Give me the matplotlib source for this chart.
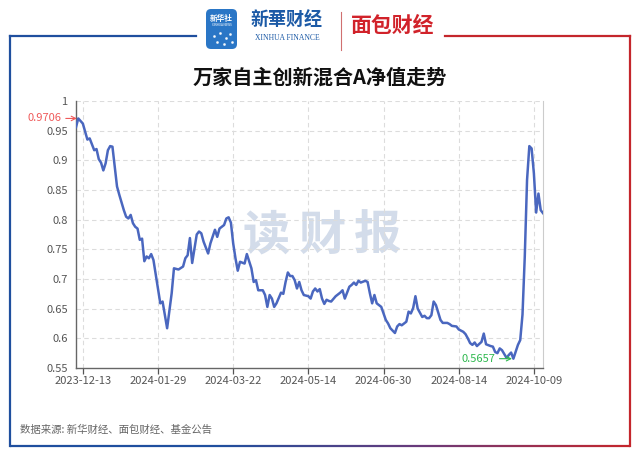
import matplotlib
matplotlib.use('Agg')
import matplotlib.pyplot as plt
from matplotlib.patches import FancyBboxPatch
from matplotlib.collections import LineCollection
import numpy as np

plt.rcParams['font.family'] = ['Noto Sans CJK SC', 'DejaVu Sans']

# ---------------- data (trading-day index, NAV) ----------------
day_index = [0, 1, 3, 5, 6, 8, 9, 10, 11, 12, 13, 14, 15, 16, 18, 19, 21, 22, 23, 24,
             25, 26, 27, 28, 29, 30, 31, 32, 33, 34, 37, 38, 40, 42, 43, 45, 47, 48, 49, 50,
             51, 53, 54, 55, 56, 58, 59, 61, 62, 63, 65, 66, 67, 68, 69, 70, 71, 72, 74, 75,
             77, 78, 79, 80, 82, 83, 84, 85, 86, 87, 88, 90, 91, 92, 93, 94, 95, 96, 97, 98,
             99, 100, 102, 103, 104, 105, 106, 107, 108, 109, 110, 111, 112, 114, 116, 117, 118, 120, 121, 122,
             123, 124, 125, 127, 128, 129, 130, 131, 132, 134, 135, 136, 137, 138, 140, 141, 142, 143, 145, 146,
             147, 148, 149, 150, 152, 153, 154, 155, 156, 157, 158, 160, 161, 163, 164, 165, 167, 168, 170, 171,
             172, 173, 174, 175, 176, 178, 179, 180, 182, 183, 184, 185, 186, 187, 189, 190, 191, 192, 194, 195,
             196, 197, 198, 199, 200, 201, 202, 203, 204, 205]
nav_values = [0.956, 0.9706, 0.962, 0.935, 0.937, 0.917, 0.919, 0.902, 0.896, 0.883, 0.895, 0.917, 0.924, 0.923, 0.856, 0.842, 0.816, 0.805, 0.802, 0.808,
              0.794, 0.788, 0.785, 0.766, 0.768, 0.730, 0.738, 0.735, 0.742, 0.732, 0.659, 0.662, 0.617, 0.676, 0.718, 0.716, 0.721, 0.735, 0.740, 0.769,
              0.727, 0.775, 0.780, 0.777, 0.763, 0.743, 0.760, 0.783, 0.771, 0.785, 0.791, 0.802, 0.804, 0.795, 0.760, 0.735, 0.714, 0.729, 0.726, 0.742,
              0.718, 0.695, 0.698, 0.681, 0.681, 0.673, 0.653, 0.673, 0.667, 0.653, 0.659, 0.677, 0.675, 0.695, 0.711, 0.705, 0.705, 0.698, 0.684, 0.695,
              0.681, 0.673, 0.671, 0.667, 0.679, 0.684, 0.679, 0.683, 0.667, 0.658, 0.665, 0.663, 0.662, 0.671, 0.677, 0.681, 0.667, 0.687, 0.690, 0.694,
              0.690, 0.697, 0.694, 0.697, 0.695, 0.676, 0.659, 0.673, 0.659, 0.653, 0.642, 0.631, 0.625, 0.617, 0.609, 0.620, 0.624, 0.622, 0.628, 0.645,
              0.642, 0.651, 0.671, 0.650, 0.636, 0.638, 0.634, 0.634, 0.639, 0.662, 0.656, 0.631, 0.626, 0.626, 0.624, 0.621, 0.620, 0.615, 0.611, 0.607,
              0.600, 0.592, 0.589, 0.593, 0.587, 0.594, 0.608, 0.590, 0.587, 0.586, 0.577, 0.575, 0.583, 0.580, 0.567, 0.572, 0.576, 0.5657, 0.589, 0.597,
              0.640, 0.738, 0.867, 0.924, 0.920, 0.878, 0.812, 0.844, 0.816, 0.811]

tick_index = [3, 36, 69, 102, 135, 168, 201]
tick_labels = ['2023-12-13', '2024-01-29', '2024-03-22', '2024-05-14',
               '2024-06-30', '2024-08-14', '2024-10-09']
y_ticks = [0.55, 0.6, 0.65, 0.7, 0.75, 0.8, 0.85, 0.9, 0.95, 1.0]
y_labels = ['0.55', '0.6', '0.65', '0.7', '0.75', '0.8', '0.85', '0.9', '0.95', '1']
max_idx, max_val, max_label = 1, 0.9706, '0.9706'
min_idx, min_val, min_label = 192, 0.5657, '0.5657'

title = '万家自主创新混合A净值走势'
source = '数据来源: 新华财经、面包财经、基金公告'
watermark_chars = ['读', '财', '报']

# ---------------- figure ----------------
W, H = 640, 453
fig = plt.figure(figsize=(6.4, 4.53), dpi=100)
fig.patch.set_facecolor('white')

bg = fig.add_axes([0, 0, 1, 1])
bg.set_xlim(0, W)
bg.set_ylim(H, 0)
bg.axis('off')

blue = '#1f4f9e'
red = '#c4262c'
# frame
bg.plot([10, 196], [35.5, 35.5], color=blue, lw=1.6)
bg.plot([10, 10], [35.5, 446], color=blue, lw=1.6)
bg.plot([445, 630], [35.5, 35.5], color=red, lw=1.6)
bg.plot([630, 630], [35.5, 446], color=red, lw=1.6)
xs = np.linspace(10, 630, 200)
segs = [[(xs[i], 446), (xs[i + 1], 446)] for i in range(len(xs) - 1)]
cmap = matplotlib.colors.LinearSegmentedColormap.from_list('br', [blue, blue, '#6a3a7a', red])
lc = LineCollection(segs, colors=cmap(np.linspace(0, 1, len(segs))), lw=1.6)
bg.add_collection(lc)

# logos
bg.add_patch(FancyBboxPatch((206, 9), 31, 40, boxstyle='round,pad=0,rounding_size=5',
                            fc='#2a76c6', ec='none'))
bg.text(221.5, 18, '新华社', color='white', fontsize=5.5, ha='center', va='center', fontweight='bold')
bg.text(221.5, 25, 'XINHUA NEWS', color='white', fontsize=2.2, ha='center', va='center')
for (px, py) in [(214, 36), (220, 33), (226, 38), (230, 34), (217, 42), (224, 44), (232, 42)]:
    bg.plot(px, py, 'o', color='white', ms=1, alpha=0.8)
bg.text(287, 20, '新華财经', color='#1c5aa6', fontsize=13, ha='center', va='center',
        fontweight='bold', style='italic')
bg.text(287, 38, 'XINHUA FINANCE', color='#1c5aa6', fontsize=5.5, ha='center', va='center',
        family=['Liberation Serif', 'DejaVu Serif'])
bg.plot([341, 341], [12, 50], color='#d07070', lw=0.8)
bg.text(393, 25, '面包财经', color='#d1222a', fontsize=15, ha='center', va='center', fontweight='heavy')

# title and source
bg.text(320, 77, title, fontsize=14.5, fontweight='bold', ha='center', va='center', color='#111111')
bg.text(20, 430, source, fontsize=7.5, ha='left', va='center', color='#666666')

# ---------------- main axes ----------------
ax = fig.add_axes([76 / W, 1 - 368 / H, (543 - 76) / W, (368 - 101) / H])
ax.set_xlim(0, 205)
ax.set_ylim(0.55, 1.0)
ax.set_facecolor('none')

for k, ch in enumerate(watermark_chars):
    ax.text(0.408 + k * 0.119, 0.495, ch, transform=ax.transAxes, fontsize=34, fontweight='heavy',
            color='#d3dcea', ha='center', va='center', zorder=0)

for yv in y_ticks[1:]:
    ax.axhline(yv, color='#dcdcdc', lw=0.8, ls=(0, (4, 3)), zorder=1)
for xv in tick_index:
    ax.axvline(xv, color='#dcdcdc', lw=0.8, ls=(0, (4, 3)), zorder=1)

ax.plot(day_index, nav_values, color='#4a67bf', lw=1.8, zorder=3, solid_joinstyle='round')

ax.set_yticks(y_ticks)
ax.set_yticklabels(y_labels)
ax.set_xticks(tick_index)
ax.set_xticklabels(tick_labels)
ax.tick_params(axis='y', length=0, pad=6, labelsize=8, labelcolor='#555555')
ax.tick_params(axis='x', length=4, width=0.9, color='#555555', pad=2, labelsize=8,
               labelcolor='#555555')
for side in ['left', 'bottom']:
    ax.spines[side].set_color('#666666')
    ax.spines[side].set_linewidth(1.0)
ax.spines['right'].set_color('#cccccc')
ax.spines['right'].set_linewidth(0.8)
ax.spines['top'].set_visible(False)

ax.annotate(max_label, xy=(max_idx, max_val), xytext=(-12, 0), textcoords='offset points',
            ha='right', va='center', fontsize=8, color='#ef5a5a', annotation_clip=False,
            arrowprops=dict(arrowstyle='->', color='#ef5a5a', lw=0.8, shrinkA=1, shrinkB=1))
ax.annotate(min_label, xy=(min_idx, min_val), xytext=(-13, 0), textcoords='offset points',
            ha='right', va='center', fontsize=8, color='#2eb84e', annotation_clip=False,
            arrowprops=dict(arrowstyle='->', color='#2eb84e', lw=0.8, shrinkA=1, shrinkB=1))

fig.savefig('out.png', dpi=100)
